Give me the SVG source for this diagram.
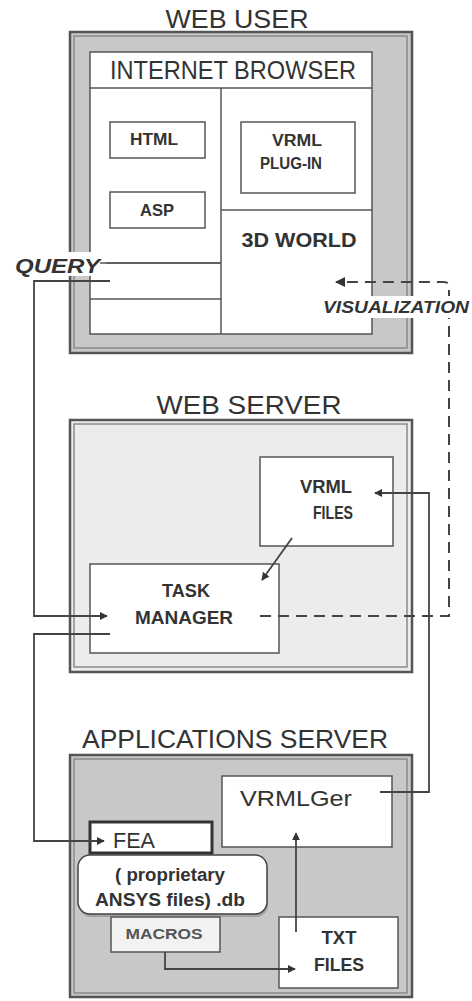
<svg xmlns="http://www.w3.org/2000/svg" width="472" height="1001" viewBox="0 0 472 1001">
<defs>
<style>
text{font-family:"Liberation Sans",Arial,sans-serif;fill:#333}
.h{font-size:25px}
.b{font-weight:bold}
.bi{font-weight:bold;font-style:italic}
.frame{stroke:#555;stroke-width:2.5}
.inner{fill:none;stroke:#8a8a8a;stroke-width:1.5}
.box{fill:#fff;stroke:#555;stroke-width:1.5}
.ln{fill:none;stroke:#555;stroke-width:1.5}
.con{fill:none;stroke:#444;stroke-width:1.8}
.dash{fill:none;stroke:#444;stroke-width:2;stroke-dasharray:11 7}
</style>
<marker id="ah" viewBox="0 0 10 10" refX="9" refY="5" markerWidth="8" markerHeight="8" markerUnits="userSpaceOnUse" orient="auto">
<path d="M0,0 L10,5 L0,10 z" fill="#333"/>
</marker>
<marker id="ahd" viewBox="0 0 10 10" refX="9" refY="5" markerWidth="10" markerHeight="10" markerUnits="userSpaceOnUse" orient="auto">
<path d="M0,0 L10,5 L0,10 z" fill="#333"/>
</marker>
</defs>
<rect width="472" height="1001" fill="#fff"/>

<g id="web-user">
<text class="h" x="237" y="28" text-anchor="middle" textLength="143" lengthAdjust="spacingAndGlyphs">WEB USER</text>
<rect class="frame" x="70" y="32" width="342" height="321" fill="#c8c8c8"/>
<rect class="inner" x="74" y="36" width="333" height="312"/>
</g>

<g id="internet-browser">
<rect class="box" x="90" y="52" width="282" height="282"/>
<line class="ln" x1="90" y1="88" x2="372" y2="88"/>
<line class="ln" x1="221" y1="88" x2="221" y2="334"/>
<line class="ln" x1="221" y1="210" x2="372" y2="210"/>
<line class="ln" x1="90" y1="263" x2="221" y2="263"/>
<line class="ln" x1="90" y1="299" x2="221" y2="299"/>
<text class="h" x="233" y="79" text-anchor="middle" textLength="246" lengthAdjust="spacingAndGlyphs">INTERNET BROWSER</text>
</g>

<g id="html">
<rect class="box" x="110" y="122" width="95" height="36"/>
<text class="b" x="154" y="145" font-size="17" text-anchor="middle" textLength="48" lengthAdjust="spacingAndGlyphs">HTML</text>
</g>

<g id="asp">
<rect class="box" x="110" y="192" width="95" height="36"/>
<text class="b" x="157" y="216" font-size="17" text-anchor="middle" textLength="34" lengthAdjust="spacingAndGlyphs">ASP</text>
</g>

<g id="vrml-plugin">
<rect class="box" x="241" y="122" width="114" height="71"/>
<text class="b" x="297" y="146" font-size="16" text-anchor="middle" textLength="50" lengthAdjust="spacingAndGlyphs">VRML</text>
<text class="b" x="291" y="169" font-size="16" text-anchor="middle" textLength="62" lengthAdjust="spacingAndGlyphs">PLUG-IN</text>
</g>

<g id="world3d">
<text class="b" x="299" y="247" font-size="21" text-anchor="middle" textLength="115" lengthAdjust="spacingAndGlyphs">3D WORLD</text>
</g>

<g id="web-server">
<text class="h" x="249" y="414" text-anchor="middle" textLength="185" lengthAdjust="spacingAndGlyphs">WEB SERVER</text>
<rect class="frame" x="70" y="420" width="342" height="252" fill="#ececec"/>
<rect class="inner" x="74" y="424" width="333" height="243"/>
</g>

<g id="vrml-files">
<rect class="box" x="260" y="457" width="133" height="89"/>
<text class="b" x="326" y="493" font-size="18" text-anchor="middle" textLength="52" lengthAdjust="spacingAndGlyphs">VRML</text>
<text class="b" x="333" y="519" font-size="18" text-anchor="middle" textLength="40" lengthAdjust="spacingAndGlyphs">FILES</text>
</g>

<g id="task-manager">
<rect class="box" x="90" y="564" width="189" height="89"/>
<text class="b" x="186" y="597" font-size="18" text-anchor="middle" textLength="48" lengthAdjust="spacingAndGlyphs">TASK</text>
<text class="b" x="184" y="624" font-size="18" text-anchor="middle" textLength="98" lengthAdjust="spacingAndGlyphs">MANAGER</text>
</g>

<g id="applications-server">
<text class="h" x="235" y="748" text-anchor="middle" textLength="306" lengthAdjust="spacingAndGlyphs">APPLICATIONS SERVER</text>
<rect class="frame" x="70" y="755" width="342" height="242" fill="#c8c8c8"/>
<rect class="inner" x="74" y="759" width="333" height="234"/>
</g>

<g id="vrmlger">
<rect class="box" x="222" y="776" width="170" height="71"/>
<text x="240" y="806" font-size="22" textLength="112" lengthAdjust="spacingAndGlyphs">VRMLGer</text>
</g>

<g id="fea">
<rect x="90" y="822" width="122" height="31" fill="#fff" stroke="#333" stroke-width="3"/>
<text x="113" y="848" font-size="22" textLength="42" lengthAdjust="spacingAndGlyphs">FEA</text>
</g>

<g id="ansys-db">
<rect x="79" y="857" width="189" height="60" rx="12" fill="#888" opacity="0.6"/>
<rect x="78" y="855" width="189" height="59" rx="12" fill="#fff" stroke="#444" stroke-width="1.5"/>
<text class="b" x="170" y="881" font-size="18" text-anchor="middle" textLength="110" lengthAdjust="spacingAndGlyphs">( proprietary</text>
<text class="b" x="170" y="906" font-size="18" text-anchor="middle" textLength="150" lengthAdjust="spacingAndGlyphs">ANSYS files) .db</text>
</g>

<g id="macros">
<rect x="111" y="917" width="109" height="35" fill="#f2f2f2" stroke="#555" stroke-width="1.5"/>
<text class="b" x="164" y="939" font-size="15" text-anchor="middle" style="fill:#555" textLength="77" lengthAdjust="spacingAndGlyphs">MACROS</text>
</g>

<g id="txt-files">
<rect class="box" x="279" y="917" width="119" height="71"/>
<text class="b" x="339" y="944" font-size="18" text-anchor="middle" textLength="35" lengthAdjust="spacingAndGlyphs">TXT</text>
<text class="b" x="339" y="971" font-size="18" text-anchor="middle" textLength="50" lengthAdjust="spacingAndGlyphs">FILES</text>
</g>

<g id="connectors">
<path class="con" d="M110,281 H34 V616 H107" marker-end="url(#ah)"/>
<path class="con" d="M110,634 H34 V841 H104" marker-end="url(#ah)"/>
<path class="con" d="M380,792 H429 V493 H375" marker-end="url(#ah)"/>
<path class="con" d="M292,538 L262,580" marker-end="url(#ah)"/>
<path class="con" d="M165,952 V969 H295" marker-end="url(#ah)"/>
<path class="con" d="M296,932 V833" marker-end="url(#ah)"/>
<path class="dash" d="M260,616 H449 V287 Q449,282 444,282 H336" marker-end="url(#ahd)"/>
</g>

<g id="query-label">
<rect x="10" y="252" width="96" height="24" fill="#fff"/>
<line class="ln" x1="100" y1="263" x2="221" y2="263"/>
<text class="bi" x="15" y="273" font-size="20" textLength="85" lengthAdjust="spacingAndGlyphs">QUERY</text>
</g>

<g id="visualization-label">
<rect x="320" y="296" width="152" height="22" fill="#fff"/>
<text class="bi" x="323" y="313" font-size="17" textLength="146" lengthAdjust="spacingAndGlyphs">VISUALIZATION</text>
</g>
</svg>
